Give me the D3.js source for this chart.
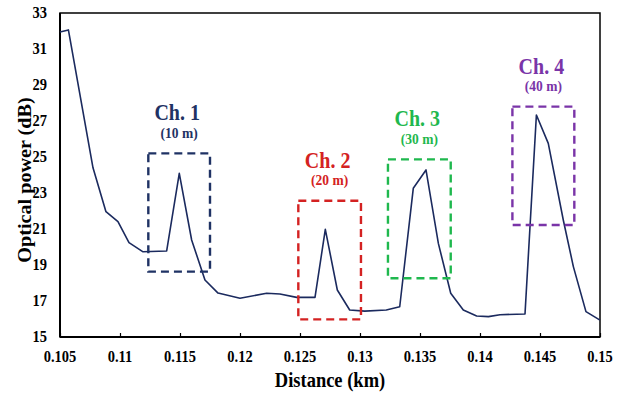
<!DOCTYPE html>
<html><head><meta charset="utf-8">
<script src="https://cdn.jsdelivr.net/npm/d3@7"></script>
<style>body{margin:0;background:#fff}svg{display:block}</style>
</head><body>
<svg id="c" width="620" height="402"></svg>
<script>
const distance = [0.105, 0.1057, 0.10775, 0.10883, 0.10983, 0.11075, 0.11189, 0.11389, 0.11494, 0.11597, 0.11708, 0.11817, 0.12, 0.12222, 0.12333, 0.12472, 0.12625, 0.12711, 0.12811, 0.12914, 0.13039, 0.13219, 0.13331, 0.13444, 0.1355, 0.13653, 0.13756, 0.13861, 0.13972, 0.1407, 0.14167, 0.14375, 0.1447, 0.14569, 0.14694, 0.14778, 0.14883, 0.15];
const power = [31.94, 32.06, 24.4, 21.96, 21.41, 20.24, 19.74, 19.78, 24.09, 20.39, 18.17, 17.44, 17.15, 17.43, 17.39, 17.2, 17.2, 20.98, 17.61, 16.5, 16.44, 16.5, 16.68, 23.26, 24.28, 20.2, 17.43, 16.5, 16.17, 16.13, 16.24, 16.28, 27.33, 25.76, 21.5, 18.91, 16.41, 15.94];
const channels = ["Ch. 1", "Ch. 2", "Ch. 3", "Ch. 4"];
const lengths = ["(10 m)", "(20 m)", "(30 m)", "(40 m)"];
const boxStart = [0.11236, 0.12486, 0.13233, 0.1427];
const boxEnd = [0.1175, 0.13008, 0.13756, 0.14786];
const boxLow = [18.63, 15.98, 18.26, 21.22];
const boxHigh = [25.2, 22.57, 24.87, 27.8];
const channelColors = ["#1f3264", "#d42222", "#1fb84e", "#7a34a8"];
const xTicks = [0.105, 0.11, 0.115, 0.12, 0.125, 0.13, 0.135, 0.14, 0.145, 0.15];
const xTickLabels = ["0.105", "0.11", "0.115", "0.12", "0.125", "0.13", "0.135", "0.14", "0.145", "0.15"];
const yTicks = [15, 17, 19, 21, 23, 25, 27, 29, 31, 33];

const svg = d3.select("#c");
const L = 60, R = 600, T = 13, B = 337;
const x = d3.scaleLinear().domain([0.105, 0.15]).range([L, R]);
const y = d3.scaleLinear().domain([15, 33]).range([B, T]);
const K = 1.12;
const FONT = "'Liberation Serif','Times New Roman',serif";

function txt(px, py, s, size, color, anchor, rot) {
  const t = svg.append("text")
    .attr("transform", rot ? `translate(${px},${py}) rotate(-90) scale(${K},1)` : `translate(${px},${py}) scale(1,${K})`)
    .attr("text-anchor", anchor || "middle")
    .attr("font-family", FONT).attr("font-weight", "bold")
    .attr("font-size", size).attr("fill", color || "#000").text(s);
  return t;
}

// x axis ticks (inward)
const xAxis = d3.axisBottom(x).tickValues(xTicks).tickSize(-4).tickFormat("");
svg.append("g").attr("transform", `translate(0,${B})`).call(xAxis)
  .call(g => g.select(".domain").remove())
  .call(g => g.selectAll("line").attr("stroke", "#000").attr("stroke-width", 1.2));

xTicks.forEach((v, i) => txt(x(v), 361.5, xTickLabels[i], 14.5, "#000"));
yTicks.forEach(v => txt(47, y(v) + 5.4, String(v), 14.5, "#000", "end"));

// frame
svg.append("rect").attr("x", L).attr("y", T).attr("width", R - L).attr("height", B - T)
  .attr("fill", "none").attr("stroke", "#000").attr("stroke-width", 1.5);
svg.append("line").attr("x1", L).attr("x2", L).attr("y1", T).attr("y2", B).attr("stroke", "#000").attr("stroke-width", 2);
svg.append("line").attr("x1", L).attr("x2", R).attr("y1", B).attr("y2", B).attr("stroke", "#000").attr("stroke-width", 2);

// line
const pts = distance.map((d, i) => [d, power[i]]);
svg.append("path").datum(pts)
  .attr("d", d3.line().x(d => x(d[0])).y(d => y(d[1])))
  .attr("fill", "none").attr("stroke", "#1b2a5e").attr("stroke-width", 1.6).attr("stroke-linejoin", "round");

// boxes and labels
channels.forEach((c, i) => {
  const x0 = x(boxStart[i]), x1 = x(boxEnd[i]), y0 = y(boxHigh[i]), y1 = y(boxLow[i]);
  svg.append("rect").attr("x", x0).attr("y", y0).attr("width", x1 - x0).attr("height", y1 - y0)
    .attr("fill", "none").attr("stroke", channelColors[i]).attr("stroke-width", 2.4)
    .attr("stroke-dasharray", "8,5");
  const cx = (x0 + x1) / 2 - 2;
  txt(cx, y0 - 33, c, 20, channelColors[i]);
  txt(cx + 2, y0 - 15.5, lengths[i], 13.5, channelColors[i]);
});

// axis titles
txt((L + R) / 2, 386.5, "Distance (km)", 18.5, "#000");
txt(31, 180, "Optical power (dB)", 18, "#000", "middle", true);
</script>
</body></html>
